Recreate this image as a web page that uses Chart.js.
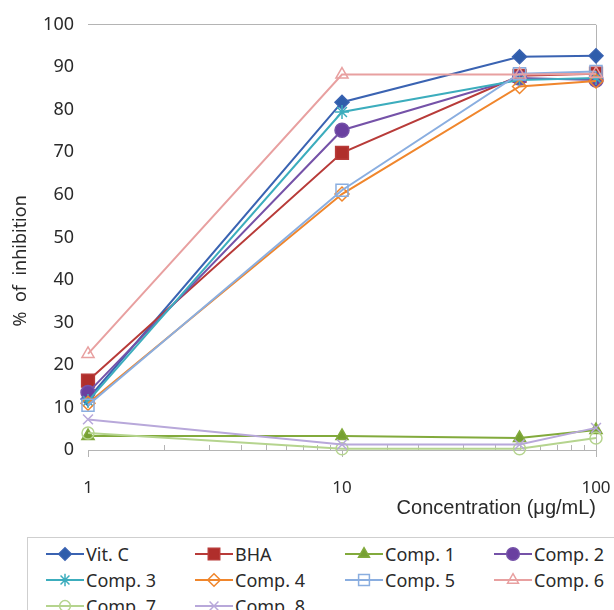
<!DOCTYPE html>
<html>
<head>
<meta charset="utf-8">
<script src="https://cdn.jsdelivr.net/npm/chart.js@4.4.1/dist/chart.umd.min.js"></script>
<style>
  body { margin: 0; background: #fff; }
  #wrap { position: relative; width: 614px; height: 610px; overflow: hidden; }
  #chartBox { position: absolute; left: 0; top: 0; width: 614px; height: 530px; }
  #legend { position: absolute; left: 27px; top: 537px; width: 640px; height: 90px;
            border: 1px solid #cfcfcf; box-sizing: border-box; }
  .item { position: absolute; height: 26px; display: flex; align-items: center;
          font: 18px "Noto Sans", sans-serif; color: #2a2a2a; white-space: nowrap; }
  .item canvas { margin-right: 2px; }
</style>
</head>
<body>
<div id="wrap">
  <div id="chartBox"><canvas id="inhibition"></canvas></div>
  <div id="legend"></div>
</div>
<script>
// concentrations (ug/mL) and % inhibition
const concentrations = [1, 10, 50, 100];
const xTickLabels = [1, 10, 100];
const seriesNames = ['Vit. C', 'BHA', 'Comp. 1', 'Comp. 2', 'Comp. 3',
                     'Comp. 4', 'Comp. 5', 'Comp. 6', 'Comp. 7', 'Comp. 8'];
const vitC  = [12.0, 81.8, 92.5, 92.7];
const bha   = [16.3, 69.9, 88.0, 88.5];
const comp1 = [3.3, 3.3, 2.8, 4.7];
const comp2 = [13.5, 75.2, 87.5, 87.0];
const comp3 = [11.5, 79.5, 87.0, 87.5];
const comp4 = [11.0, 60.2, 85.5, 86.8];
const comp5 = [10.5, 61.1, 88.5, 89.0];
const comp6 = [22.6, 88.3, 88.3, 88.5];
const comp7 = [4.0, 0.3, 0.3, 2.8];
const comp8 = [7.2, 1.3, 1.3, 5.2];
const seriesValues = [vitC, bha, comp1, comp2, comp3, comp4, comp5, comp6, comp7, comp8];

// look of each series: line colour, marker, marker fill, marker radius
const looks = [
    { color: '#3a63b2', point: 'rectRot',  fill: '#2f5dab', r: 7 },
    { color: '#b83b39', point: 'rect',     fill: '#b02e2b', r: 9 },
    { color: '#82aa3c', point: 'triangle', fill: '#76a032', r: 7 },
    { color: '#7552a8', point: 'circle',   fill: '#6a40a0', r: 7 },
    { color: '#3cadbd', point: 'star',     fill: '#3cadbd', r: 7 },
    { color: '#f0862c', point: 'rectRot',  fill: 'rgba(0,0,0,0)', r: 7 },
    { color: '#8aaee0', point: 'rect',     fill: 'rgba(0,0,0,0)', r: 8.5 },
    { color: '#e8a0a0', point: 'triangle', fill: 'rgba(0,0,0,0)', r: 7 },
    { color: '#b5d48e', point: 'circle',   fill: 'rgba(0,0,0,0)', r: 6 },
    { color: '#b8a8da', point: 'crossRot', fill: 'rgba(0,0,0,0)', r: 7 }
];

const isMajor = v => xTickLabels.includes(v);
const axisGray = '#b4b4b4';

const minorTicks = {
    id: 'minorTicks',
    beforeDatasetsDraw(chart) {
        const xs = chart.scales.x, ctx = chart.ctx;
        ctx.save();
        ctx.strokeStyle = axisGray;
        ctx.lineWidth = 1;
        xs.ticks.forEach(t => {
            if (isMajor(t.value)) return;
            const px = Math.round(xs.getPixelForValue(t.value)) + 0.5;
            ctx.beginPath();
            ctx.moveTo(px, xs.top - 5);
            ctx.lineTo(px, xs.top);
            ctx.stroke();
        });
        ctx.restore();
    }
};

const datasets = seriesNames.map((name, i) => ({
    label: name,
    data: concentrations.map((c, j) => ({ x: c, y: seriesValues[i][j] })),
    borderColor: looks[i].color,
    borderWidth: 2,
    pointStyle: looks[i].point,
    pointRadius: looks[i].r,
    pointBorderWidth: 1.5,
    pointBorderColor: looks[i].color,
    pointBackgroundColor: looks[i].fill,
    tension: 0,
    clip: false,
    order: seriesNames.length - i
}));

new Chart(document.getElementById('inhibition'), {
    type: 'line',
    data: { datasets: datasets },
    plugins: [minorTicks],
    options: {
        responsive: true,
        maintainAspectRatio: false,
        animation: false,
        events: [],
        layout: { padding: { left: 0, right: 0, top: 24, bottom: 0 } },
        plugins: { legend: { display: false }, tooltip: { enabled: false } },
        scales: {
            x: {
                type: 'logarithmic',
                min: 1,
                max: 100,
                afterFit: s => { s.height = 80; s.paddingRight = 18; },
                border: { display: true, color: axisGray, width: 1 },
                grid: {
                    drawOnChartArea: true,
                    color: c => (c.tick && c.tick.value === 100 ? axisGray : 'rgba(0,0,0,0)'),
                    tickColor: c => (c.tick && isMajor(c.tick.value) ? axisGray : 'rgba(0,0,0,0)'),
                    tickLength: 7
                },
                ticks: {
                    autoSkip: false,
                    maxRotation: 0,
                    padding: 21,
                    color: '#2a2a2a',
                    font: { family: 'Noto Sans', size: 17 },
                    callback: v => (isMajor(v) ? String(v) : '')
                },
                title: {
                    display: true,
                    align: 'end',
                    text: 'Concentration (\u03bcg/mL)',
                    color: '#2a2a2a',
                    font: { family: 'Liberation Sans', size: 20 },
                    padding: { top: 0, bottom: 10 }
                }
            },
            y: {
                min: 0,
                max: 100,
                afterFit: s => { s.width = 88; },
                border: { display: false },
                grid: {
                    drawTicks: false,
                    color: c => (c.tick && c.tick.value === 100 ? axisGray : 'rgba(0,0,0,0)')
                },
                ticks: {
                    stepSize: 10,
                    padding: 14,
                    color: '#2a2a2a',
                    font: { family: 'Noto Sans', size: 18 }
                },
                title: {
                    display: true,
                    text: '%  of  inhibition' + '          ',
                    color: '#2a2a2a',
                    font: { family: 'Noto Sans', size: 18 },
                    padding: { top: 10, bottom: 0 }
                }
            }
        }
    }
});

// legend: 4 columns, line + marker swatch then the name
function drawMarker(ctx, look, x, y) {
    const r = look.r * 0.9;
    ctx.beginPath();
    switch (look.point) {
        case 'rectRot':
            ctx.moveTo(x, y - r); ctx.lineTo(x + r, y); ctx.lineTo(x, y + r); ctx.lineTo(x - r, y);
            ctx.closePath(); break;
        case 'rect': {
            const h = r * Math.SQRT1_2;
            ctx.rect(x - h, y - h, 2 * h, 2 * h); break;
        }
        case 'triangle':
            ctx.moveTo(x, y - r); ctx.lineTo(x + r * 0.866, y + r * 0.5); ctx.lineTo(x - r * 0.866, y + r * 0.5);
            ctx.closePath(); break;
        case 'circle':
            ctx.arc(x, y, r, 0, Math.PI * 2); break;
        case 'star':
            for (let k = 0; k < 4; k++) {
                const a = k * Math.PI / 4;
                ctx.moveTo(x - Math.cos(a) * r, y - Math.sin(a) * r);
                ctx.lineTo(x + Math.cos(a) * r, y + Math.sin(a) * r);
            }
            break;
        case 'crossRot': {
            const d = r * Math.SQRT1_2;
            ctx.moveTo(x - d, y - d); ctx.lineTo(x + d, y + d);
            ctx.moveTo(x + d, y - d); ctx.lineTo(x - d, y + d);
            break;
        }
    }
    if (look.point !== 'star' && look.point !== 'crossRot') {
        ctx.fillStyle = look.fill;
        ctx.fill();
    }
    ctx.strokeStyle = look.color;
    ctx.lineWidth = 1.5;
    ctx.stroke();
}

const legend = document.getElementById('legend');
const colX = [18, 167, 317, 466];   // relative to legend box
const rowY = [3, 29, 55];
seriesNames.forEach((name, i) => {
    const item = document.createElement('div');
    item.className = 'item';
    item.style.left = colX[i % 4] + 'px';
    item.style.top = rowY[Math.floor(i / 4)] + 'px';
    const sw = document.createElement('canvas');
    sw.width = 38; sw.height = 22;
    const c = sw.getContext('2d');
    c.strokeStyle = looks[i].color;
    c.lineWidth = 2;
    c.beginPath(); c.moveTo(0, 11); c.lineTo(38, 11); c.stroke();
    drawMarker(c, looks[i], 19, 11);
    item.appendChild(sw);
    const txt = document.createElement('span');
    txt.textContent = name;
    item.appendChild(txt);
    legend.appendChild(item);
});
</script>
</body>
</html>
